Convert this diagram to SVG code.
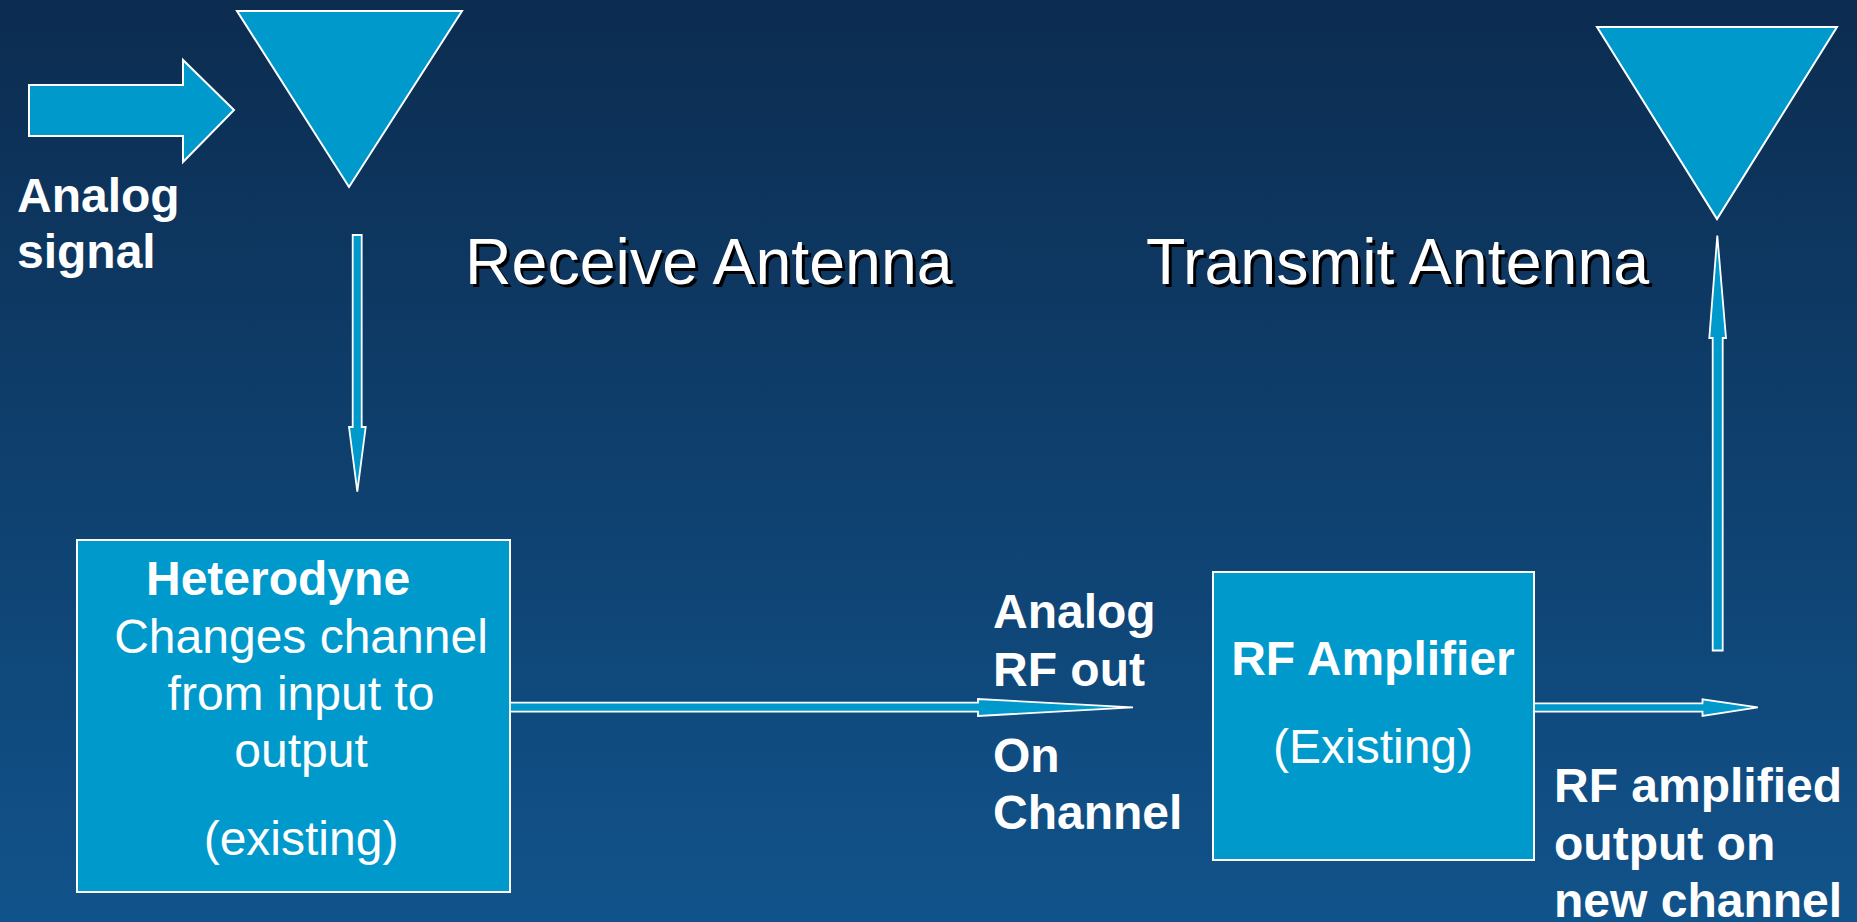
<svg xmlns="http://www.w3.org/2000/svg" width="1857" height="922" viewBox="0 0 1857 922">
<defs>
<linearGradient id="bg" x1="0" y1="0" x2="0" y2="1">
<stop offset="0" stop-color="#0c2c50"/>
<stop offset="1" stop-color="#11538b"/>
</linearGradient>
</defs>
<style>
.shape{fill:#0099cc;stroke:#ffffff;stroke-width:2;stroke-linejoin:miter}
.conn{fill:#0099cc;stroke:#ffffff;stroke-width:1.8;stroke-linejoin:miter}
.t{font-family:"Liberation Sans",Arial,sans-serif;font-size:48px;fill:#ffffff}
.b{font-weight:bold}
.title{font-family:"Liberation Sans",Arial,sans-serif;font-size:64.5px;fill:#ffffff}
.shadow{fill:#000000}
</style>
<rect x="0" y="0" width="1857" height="922" fill="url(#bg)"/>

<g id="input-arrow">
<polygon class="shape" points="29,85 183,85 183,60 234,110 183,162 183,136 29,136"/>
<text class="t b" x="17" y="212">Analog</text>
<text class="t b" x="17" y="268">signal</text>
</g>

<g id="receive-antenna">
<polygon class="shape" points="237,11 462,11 349,187"/>
<text class="title shadow" x="468" y="287">Receive Antenna</text>
<text class="title" x="465" y="284">Receive Antenna</text>
</g>

<g id="transmit-antenna">
<polygon class="shape" points="1597,27 1837,27 1717,219"/>
<text class="title shadow" x="1149" y="287">Transmit Antenna</text>
<text class="title" x="1146" y="284">Transmit Antenna</text>
</g>

<g id="heterodyne">
<rect class="shape" x="77" y="540" width="433" height="352"/>
<text class="t b" x="146" y="595">Heterodyne</text>
<text class="t" x="301" y="653" text-anchor="middle">Changes channel</text>
<text class="t" x="301" y="710" text-anchor="middle">from input to</text>
<text class="t" x="301" y="767" text-anchor="middle">output</text>
<text class="t" x="301" y="855" text-anchor="middle">(existing)</text>
</g>

<g id="rf-out-label">
<text class="t b" x="993" y="628">Analog</text>
<text class="t b" x="993" y="686">RF out</text>
<text class="t b" x="993" y="772">On</text>
<text class="t b" x="993" y="829">Channel</text>
</g>

<g id="rf-amplifier">
<rect class="shape" x="1213" y="572" width="321" height="288"/>
<text class="t b" x="1373" y="675" text-anchor="middle">RF Amplifier</text>
<text class="t" x="1373" y="763" text-anchor="middle">(Existing)</text>
</g>

<g id="rf-amplified-label">
<text class="t b" x="1554" y="802">RF amplified</text>
<text class="t b" x="1554" y="860">output on</text>
<text class="t b" x="1554" y="917">new channel</text>
</g>

<g id="connectors">
<polygon class="conn" points="352.7,235 361.7,235 361.7,427 365.7,427 357.3,491.7 349,427 352.7,427"/>
<polygon class="conn" points="510,702.7 978,702.7 978,699 1133,707.3 978,716 978,711.7 510,711.7"/>
<polygon class="conn" points="1534,703.3 1702.5,703.3 1702.5,699.3 1757.8,707.3 1702.5,716 1702.5,711.7 1534,711.7"/>
<polygon class="conn" points="1712.7,650.5 1712.7,338 1709.3,338 1717.3,235.5 1726,338 1722.7,338 1722.7,650.5"/>
</g>
</svg>
